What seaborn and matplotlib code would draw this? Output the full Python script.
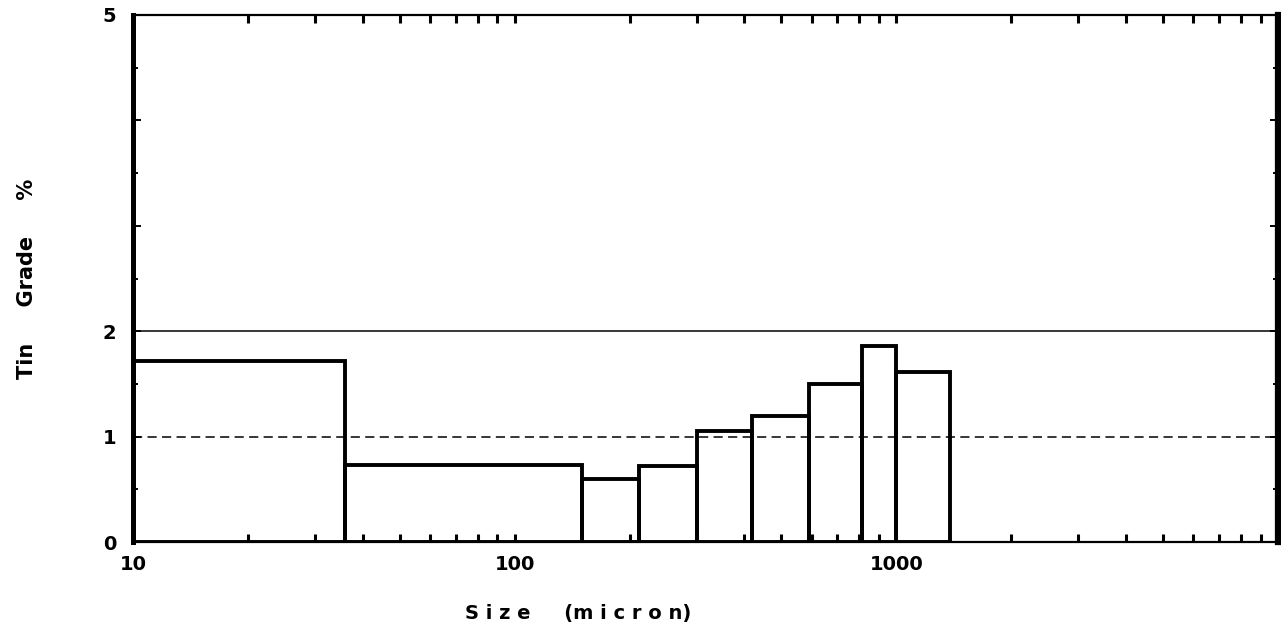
import numpy as np
import pandas as pd
import seaborn as sns
import matplotlib.pyplot as plt
from matplotlib.ticker import LogLocator, MultipleLocator, NullFormatter

# size fraction boundaries (micron) and tin grade (%) of each fraction
bin_edges = [10, 36, 150, 212, 300, 418, 590, 811, 1000, 1380]
tin_grade = [1.72, 0.73, 0.60, 0.72, 1.05, 1.20, 1.50, 1.86, 1.61]

# reference levels
solid_level = 2
dashed_level = 1

x_ticks = [10, 100, 1000, 10000]
x_tick_labels = ["10", "100", "1000", ""]
y_ticks = [0, 1, 2, 3, 4, 5]
y_tick_labels = ["0", "1", "2", "", "", "5"]

sns.set_style("white")
plt.rcParams['font.family'] = ['DejaVu Sans']
plt.rcParams['font.weight'] = 'bold'
for key in ['text.color', 'axes.labelcolor', 'xtick.color', 'ytick.color']:
    plt.rcParams[key] = 'black'

edges = np.array(bin_edges, dtype=float)
df = pd.DataFrame({
    "size": np.sqrt(edges[:-1] * edges[1:]),
    "grade": tin_grade,
})

fig = plt.figure(figsize=(12.81, 6.42), dpi=100)
ax = fig.add_axes([133 / 1281, 1 - 542 / 642, 1145 / 1281, 527 / 642])

ax.axhline(solid_level, color="black", linewidth=1.1, zorder=1)
ax.axhline(dashed_level, color="black", linewidth=1.1, linestyle=(0, (6, 3.5)), zorder=1)

sns.histplot(data=df, x="size", weights="grade", bins=bin_edges, element="bars",
             fill=False, color="black", linewidth=2.8, ax=ax, zorder=3)

ax.set_xscale("log")
ax.set_xlim(10, 10000)
ax.set_ylim(0, 5)

ax.set_xticks(x_ticks)
ax.set_xticklabels(x_tick_labels, fontsize=14, fontweight="bold")
ax.xaxis.set_minor_locator(LogLocator(base=10, subs=np.arange(2, 10)))
ax.xaxis.set_minor_formatter(NullFormatter())
ax.set_yticks(y_ticks)
ax.set_yticklabels(y_tick_labels, fontsize=14, fontweight="bold")
ax.yaxis.set_minor_locator(MultipleLocator(0.5))

ax.tick_params(axis="x", which="both", direction="in", top=True, bottom=True,
               length=6, width=2.2, pad=9, color="black")
ax.tick_params(axis="y", which="major", direction="in", left=True, right=True,
               length=6, width=1.4, pad=12, color="black")
ax.tick_params(axis="y", which="minor", direction="in", left=True, right=True,
               length=3.5, width=1.4, color="black")

for side, lw in [("left", 3.6), ("right", 4.5), ("top", 1.6), ("bottom", 1.6)]:
    ax.spines[side].set_color("black")
    ax.spines[side].set_linewidth(lw)

ax.set_xlabel("S i z e     (m i c r o n)", fontsize=14, fontweight="bold", color="black")
ax.xaxis.set_label_coords(0.389, -0.118)
ax.set_ylabel("Tin     Grade     %", fontsize=15, fontweight="bold", color="black")
ax.yaxis.set_label_coords(-0.084, 0.5)

fig.savefig("out.png", dpi=100)
plt.close()
